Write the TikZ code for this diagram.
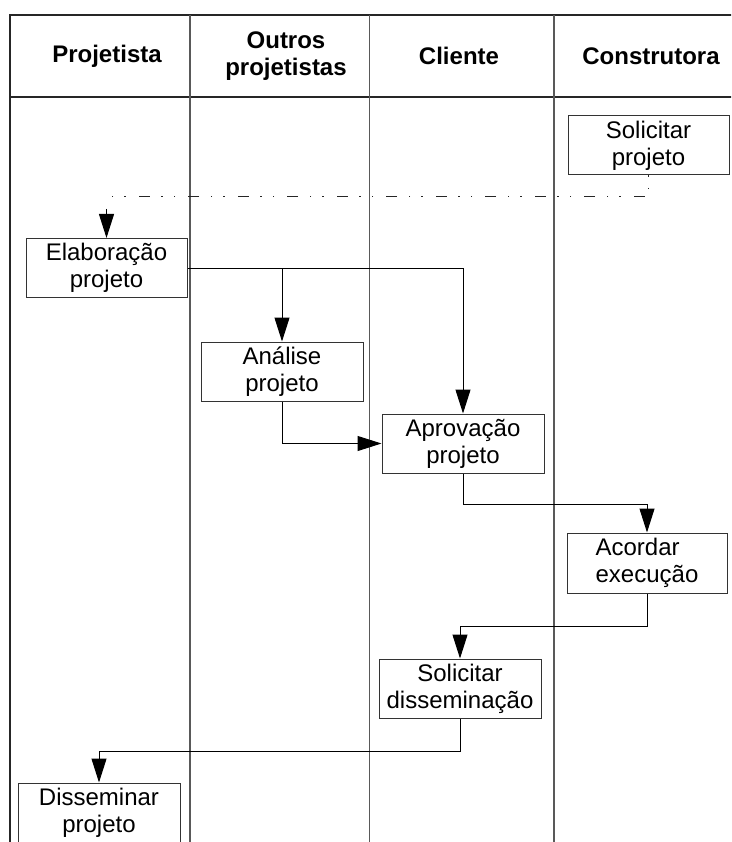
\documentclass[tikz,border=0pt]{standalone}
\usepackage{fontspec}
\setmainfont{Liberation Sans}
\usetikzlibrary{arrows.meta}
\begin{document}
\begin{tikzpicture}[x=1pt,y=-1pt,
  box/.style={draw=black!80, line width=1pt, minimum width=161pt, minimum height=59pt,
    inner sep=0pt, align=center, font=\fontsize{24}{27}\selectfont},
  lane/.style={draw=black!65, line width=1.3pt},
  headline/.style={draw=black!85, line width=1.3pt},
  head/.style={font=\bfseries\fontsize{24}{27}\selectfont, align=center},
  arr/.style={draw=black, line width=1pt, -{Triangle[length=24pt,width=15pt]}},
  flowdash/.style={draw=black!85, line width=1pt,
    dash pattern=on 1.5pt off 11pt on 1.5pt off 11.5pt on 11pt off 13pt}]
\useasboundingbox (0,0) rectangle (731,842);
\clip (0,0) rectangle (731,842);
\fill[white] (0,0) rectangle (731,842);
% swimlanes
\draw[headline] (10,842) -- (10,15) -- (740,15);
\draw[headline] (10,97) -- (740,97);
\draw[lane] (190,15) -- (190,842);
\draw[lane] (369.5,15) -- (369.5,842);
\draw[lane] (554,15) -- (554,842);
% headers
\node[head] (hp) at (107,56) {Projetista};
\node[head] (ho) at (286,56) {Outros\\projetistas};
\node[head] (hc) at (459,56) {Cliente};
\node[head] (hk) at (651,56) {Construtora};
% boxes
\node[box] (solic) at (648.5,145.5) {Solicitar\\projeto};
\node[box] (elab) at (106.5,268) {Elaboração\\projeto};
\node[box, minimum width=162pt] (anal) at (282,371.5) {Análise\\projeto};
\node[box, minimum width=162pt] (aprov) at (463,443.5) {Aprovação\\projeto};
\node[box, minimum width=160pt, minimum height=60pt, align=left] (acord) at (647,563) {Acordar\\execução};
\node[box, minimum width=162pt] (soldis) at (460,688.5) {Solicitar\\disseminação};
\node[box, minimum width=162pt, minimum height=60pt] (dissem) at (99,813) {Disseminar\\projeto};
% connectors
\coordinate (dturn) at (elab.north |- 0,197);
\coordinate (dstart) at (elab.north |- 0,209);
\draw[flowdash] (solic.south) |- (dturn);
\draw[arr] (dstart) -- (elab.north);
\draw[arr] (elab.east) -| (aprov.north);
\coordinate (br) at (anal.north |- elab.east);
\draw[arr] (br) -- (anal.north);
\draw[arr] (anal.south) |- (aprov.west);
\draw[arr] (aprov.south) -- ++(0,31) -| (acord.north);
\draw[arr] (acord.south) -- ++(0,33) -| (soldis.north);
\draw[arr] (soldis.south) -- ++(0,33) -| (dissem.north);
\end{tikzpicture}
\end{document}
